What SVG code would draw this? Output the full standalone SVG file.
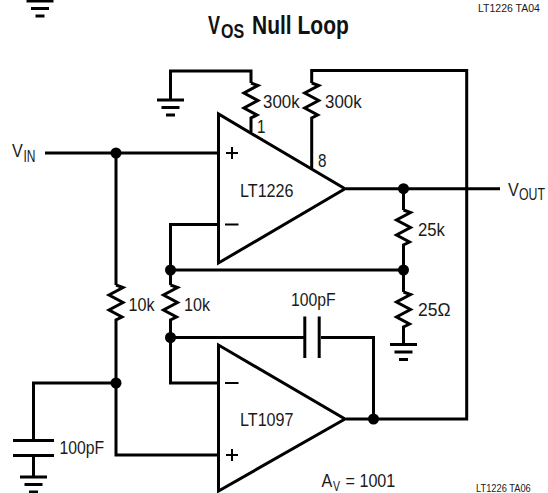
<svg xmlns="http://www.w3.org/2000/svg" width="548" height="493" viewBox="0 0 548 493">
<style>
.w{fill:none;stroke:#000;stroke-width:3;stroke-linejoin:miter}
.b{fill:#fff;stroke:#000;stroke-width:3}
text{font-family:"Liberation Sans",Arial,sans-serif;fill:#1a1a1a;font-size:19px}
.s{font-size:16px}
.t{font-size:25px;font-weight:bold;fill:#111}
.ts{font-size:20px;font-weight:bold;fill:#111}
.n{font-size:10px}
</style>
<defs>
<path id="res" class="w" d="M0,0 L7,2.500 L-7,10 L7,17.500 L-7,25 L6,32 L0,35 V38"/>
<g id="gnd"><path class="w" d="M-13.500,0H13.500M-9,7.500H9M-4.500,15H4.500"/></g>
<circle id="dot" r="5.500" fill="#000"/>
</defs>
<g id="connectors">
<path class="w" d="M170.500,100V71H251V83M251,121V132"/>
<path class="w" d="M311.700,83V70.500H466.700V419H346M311.700,121V168"/>
<path class="w" d="M45,153H218M116,153V285M116,323V455H218"/>
<path class="w" d="M116,383H33.500V440.500M33.500,455.500V477"/>
<path class="w" d="M218,224.500H170.500V285M170.500,270H403.500M170.500,323V383H218M170.500,337.500H304M321,337.500H373.500V419"/>
<path class="w" d="M346,188.700H500M403.500,188.700V210M403.500,248V292M403.500,330V344.500"/>
</g>
<g id="ground-top"><use href="#gnd" x="40" y="1"/></g>
<g id="ground-1"><use href="#gnd" x="170.500" y="100"/></g>
<g id="ground-2"><use href="#gnd" x="403.500" y="344.500"/></g>
<g id="ground-3"><use href="#gnd" x="33.500" y="477"/></g>
<g id="r-300k-1"><use href="#res" x="251" y="83"/><text transform="translate(263,108) scale(.89,1)">300k</text></g>
<g id="r-300k-2"><use href="#res" x="311.700" y="83"/><text transform="translate(325,108) scale(.89,1)">300k</text></g>
<g id="r-25k"><use href="#res" x="403.500" y="210"/><text transform="translate(418,236) scale(.88,1)">25k</text></g>
<g id="r-25ohm"><use href="#res" x="403.500" y="292"/><text transform="translate(418,316) scale(.92,1)">25Ω</text></g>
<g id="r-10k-1"><use href="#res" x="116" y="285"/><text transform="translate(128.500,311) scale(.85,1)">10k</text></g>
<g id="r-10k-2"><use href="#res" x="170.500" y="285"/><text transform="translate(184,311) scale(.85,1)">10k</text></g>
<g id="c-feedback"><path class="w" d="M304.800,316.500V358M319.200,316.500V358"/><text transform="translate(291,306) scale(.83,1)">100pF</text></g>
<g id="c-input"><path class="w" d="M13,440.500H54M13,455.500H54"/><text transform="translate(59.500,453.500) scale(.83,1)">100pF</text></g>
<g id="lt1226"><path class="b" d="M218.500,114V263L345,188.700Z"/><text transform="translate(240,196.500) scale(.85,1)">LT1226</text>
<path class="w" d="M226,153H238M232,147V159M225,224.500H238.500" style="stroke-width:2"/>
<text transform="translate(257,133) scale(.8,1)">1</text><text transform="translate(318,167) scale(.8,1)">8</text></g>
<g id="lt1097"><path class="b" d="M218.500,345V491L345,419Z"/><text transform="translate(240,426) scale(.85,1)">LT1097</text>
<path class="w" d="M225,383H238.500M226,455H238M232,449V461" style="stroke-width:2"/></g>
<g id="dots"><use href="#dot" x="116" y="153"/><use href="#dot" x="403.500" y="188.700"/><use href="#dot" x="170.500" y="270"/><use href="#dot" x="403.500" y="270"/><use href="#dot" x="170.500" y="337.500"/><use href="#dot" x="116" y="383"/><use href="#dot" x="373.500" y="419"/></g>
<g id="labels">
<text class="t" transform="translate(208,33.500) scale(.72,1)">V</text><text class="ts" transform="translate(221,38) scale(.8,1)">OS</text><text class="t" transform="translate(252,33.500) scale(.84,1)">Null Loop</text>
<text transform="translate(12,157) scale(.85,1)">V</text><text class="s" transform="translate(23.500,162) scale(.75,1)">IN</text>
<text transform="translate(508,196) scale(.85,1)">V</text><text class="s" transform="translate(519,200) scale(.77,1)">OUT</text>
<text transform="translate(321.500,487) scale(.85,1)">A</text><text class="s" transform="translate(333,491) scale(.75,1)" style="font-size:14px">V</text><text transform="translate(345.500,487) scale(.85,1)">= 1001</text>
<text class="n" transform="translate(478,12) scale(1.05,1)">LT1226 TA04</text>
<text class="n" transform="translate(476,492) scale(.93,1)">LT1226 TA06</text>
</g>
</svg>
